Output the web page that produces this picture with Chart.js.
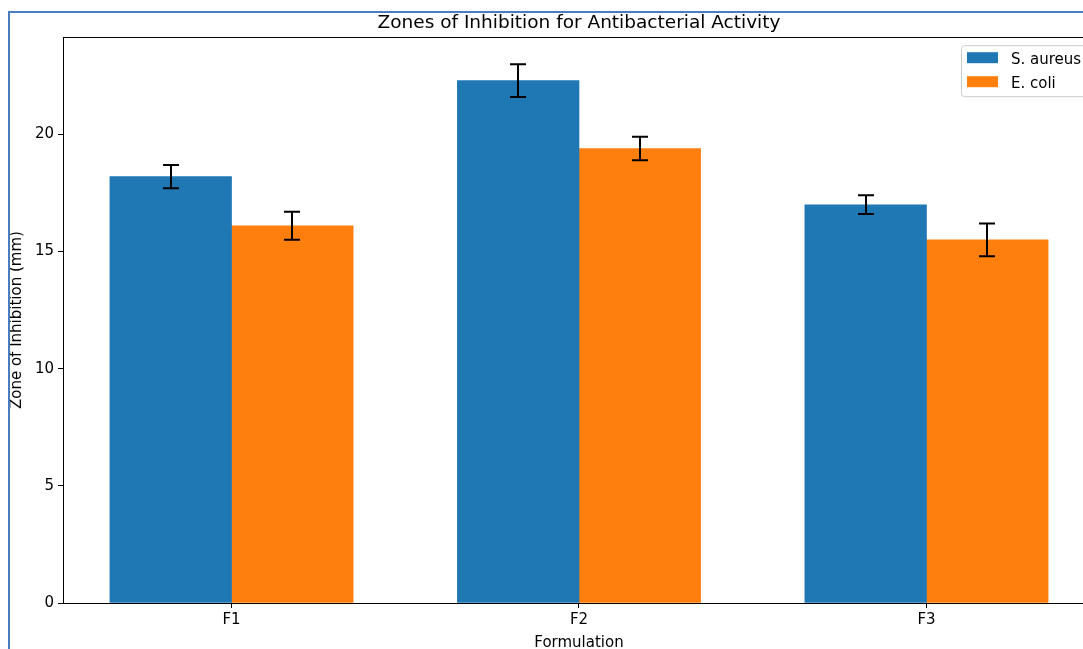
<!DOCTYPE html>
<html>
<head>
<meta charset="utf-8">
<title>Zones of Inhibition for Antibacterial Activity</title>
<script src="https://cdn.jsdelivr.net/npm/chart.js@4/dist/chart.umd.min.js"></script>
<style>
  html, body { margin: 0; padding: 0; background: #fff; overflow: hidden; width: 1083px; height: 649px; }
  #wrap { position: absolute; left: 0; top: 0; width: 1158px; height: 649px; }
  #frame { position: absolute; left: 8px; top: 11px; width: 1200px; height: 700px;
           border-left: 2px solid #4a7dbf; border-top: 2px solid #4a7dbf; pointer-events: none; }
</style>
</head>
<body>
<div id="wrap"><canvas id="chart" width="1158" height="649"></canvas></div>
<div id="frame"></div>
<script>
// Formulations and measured zones of inhibition (mm), mean ± error
const categories = ['F1', 'F2', 'F3'];
const seriesNames = ['S. aureus', 'E. coli'];
const sAureus = [18.2, 22.3, 17.0];
const sAureusErr = [0.5, 0.7, 0.4];
const eColi = [16.1, 19.4, 15.5];
const eColiErr = [0.6, 0.5, 0.7];
const yTickValues = [0, 5, 10, 15, 20];

const BAR_W = 0.35;
const COLORS = ['#1f77b4', '#ff7f0e'];
const FONT = 'DejaVu Sans';

Chart.defaults.font.family = FONT;
Chart.defaults.color = '#000';

const seriesValues = [sAureus, eColi];
const seriesErrors = [sAureusErr, eColiErr];

const datasets = seriesNames.map((name, s) => ({
  label: name,
  data: categories.map((_, i) => ({ x: i + (s === 0 ? -BAR_W / 2 : BAR_W / 2), y: seriesValues[s][i] })),
  errors: seriesErrors[s],
  backgroundColor: COLORS[s],
  borderWidth: 0,
  grouped: false,
  barPercentage: 1,
  categoryPercentage: 1
}));

// Axis limits with matplotlib-style 5% margins
const xSpan = categories.length - 1 + 2 * BAR_W;
const xMin = -BAR_W - 0.05 * xSpan;
const xMax = categories.length - 1 + BAR_W + 0.05 * xSpan;
const yTop = Math.max(...seriesValues.flatMap((v, s) => v.map((y, i) => y + seriesErrors[s][i])));
const yMax = yTop * 1.05;

// Error bars with caps
const errorBars = {
  id: 'errorBars',
  afterDatasetsDraw(chart) {
    const { ctx } = chart;
    const y = chart.scales.y;
    ctx.save();
    ctx.strokeStyle = '#000';
    ctx.lineWidth = 2;
    chart.data.datasets.forEach((ds, d) => {
      const meta = chart.getDatasetMeta(d);
      meta.data.forEach((bar, i) => {
        const v = ds.data[i].y, e = ds.errors[i];
        const x = Math.round(bar.x);
        const y1 = y.getPixelForValue(v + e), y2 = y.getPixelForValue(v - e);
        ctx.beginPath();
        ctx.moveTo(x, y1); ctx.lineTo(x, y2);
        ctx.moveTo(x - 8, y1); ctx.lineTo(x + 8, y1);
        ctx.moveTo(x - 8, y2); ctx.lineTo(x + 8, y2);
        ctx.stroke();
      });
    });
    ctx.restore();
  }
};

// Full axes frame and upper-right legend
const frameAndLegend = {
  id: 'frameAndLegend',
  afterDraw(chart) {
    const { ctx, chartArea: a } = chart;
    ctx.save();
    ctx.strokeStyle = '#000';
    ctx.lineWidth = 1;
    ctx.strokeRect(Math.round(a.left) + 0.5, Math.round(a.top) + 0.5,
                   Math.round(a.right - a.left), Math.round(a.bottom - a.top));

    const lx = a.right - 134, ly = a.top + 8, lw = 127, lh = 51;
    ctx.beginPath();
    ctx.roundRect(lx + 0.5, ly + 0.5, lw, lh, 3);
    ctx.fillStyle = 'rgba(255,255,255,0.8)';
    ctx.fill();
    ctx.strokeStyle = '#cccccc';
    ctx.stroke();

    ctx.font = '15px ' + FONT;
    ctx.textBaseline = 'middle';
    ctx.textAlign = 'left';
    seriesNames.forEach((name, s) => {
      const rowY = ly + 7 + s * 24;
      ctx.fillStyle = COLORS[s];
      ctx.fillRect(lx + 6, rowY, 31, 11);
      ctx.fillStyle = '#000';
      ctx.fillText(name, lx + 50, rowY + 8);
    });
    ctx.restore();
  }
};

new Chart(document.getElementById('chart'), {
  type: 'bar',
  data: { datasets },
  options: {
    responsive: false,
    animation: false,
    devicePixelRatio: 1,
    layout: { padding: 0 },
    plugins: {
      legend: { display: false },
      tooltip: { enabled: false },
      title: {
        display: true,
        text: 'Zones of Inhibition for Antibacterial Activity',
        color: '#000',
        font: { size: 18.5, weight: 'normal', lineHeight: 1.2 },
        padding: { top: 12, bottom: 3 }
      }
    },
    scales: {
      x: {
        type: 'linear',
        min: xMin,
        max: xMax,
        offset: false,
        afterBuildTicks(scale) { scale.ticks = categories.map((_, i) => ({ value: i })); },
        afterFit(scale) { scale.height = 46; },
        ticks: {
          padding: 3,
          font: { size: 15 },
          color: '#000',
          callback: (v) => categories[v]
        },
        grid: { offset: false, drawOnChartArea: false, drawTicks: true, tickLength: 5, tickColor: '#000' },
        border: { display: true, color: '#000', width: 1 },
        title: {
          display: true,
          text: 'Formulation',
          color: '#000',
          font: { size: 15, lineHeight: 0.75 },
          padding: { top: 0, bottom: 0 }
        }
      },
      y: {
        min: 0,
        max: yMax,
        afterBuildTicks(scale) { scale.ticks = yTickValues.map(v => ({ value: v })); },
        afterFit(scale) { scale.width = 63; },
        ticks: { padding: 4, font: { size: 15 }, color: '#000' },
        grid: { drawOnChartArea: false, drawTicks: true, tickLength: 5, tickColor: '#000' },
        border: { display: true, color: '#000', width: 1 },
        title: {
          display: true,
          text: 'Zone of Inhibition (mm)',
          color: '#000',
          font: { size: 15, lineHeight: 1 },
          padding: { top: 10, bottom: 0 }
        }
      },
      // empty right-hand margin so the figure title centres over the axes
      yRight: {
        position: 'right',
        display: true,
        afterFit(scale) { scale.width = 63; },
        ticks: { display: false },
        grid: { display: false, drawTicks: false },
        border: { display: false }
      }
    }
  },
  plugins: [errorBars, frameAndLegend]
});
</script>
</body>
</html>
